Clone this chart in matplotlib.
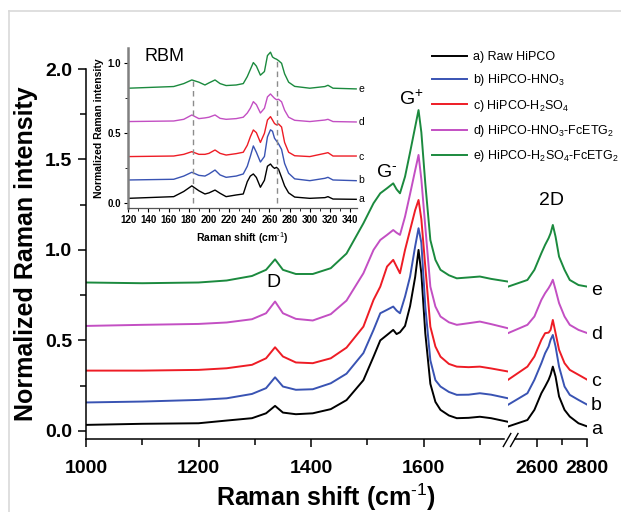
import matplotlib
matplotlib.use("Agg")
import matplotlib.pyplot as plt
from matplotlib.lines import Line2D
from matplotlib.ticker import MultipleLocator, FixedLocator

plt.rcParams['font.family'] = ['Liberation Sans', 'DejaVu Sans']
plt.rcParams['mathtext.fontset'] = 'custom'
plt.rcParams['mathtext.rm'] = 'Liberation Sans'
plt.rcParams['mathtext.it'] = 'Liberation Sans:italic'
plt.rcParams['mathtext.bf'] = 'Liberation Sans:bold'
plt.rcParams['mathtext.default'] = 'regular'

# ---------------- data ----------------
labels = ["a) Raw HiPCO", "b) HiPCO-HNO$_3$", "c) HiPCO-H$_2$SO$_4$",
          "d) HiPCO-HNO$_3$-FcETG$_2$", "e) HiPCO-H$_2$SO$_4$-FcETG$_2$"]
short = ["a", "b", "c", "d", "e"]
colors = ["#000000", "#3953B3", "#EE1C25", "#C34FC3", "#1B8A3E"]

x_left = [1000, 1100, 1200, 1250, 1295, 1320, 1336, 1350, 1373, 1403, 1435, 1463,
          1493, 1511, 1523, 1535, 1546, 1552, 1558, 1567, 1576, 1585, 1591, 1596,
          1603, 1612, 1621, 1630, 1645, 1659, 1680, 1700, 1720, 1750]
a_left = [0.033, 0.039, 0.042, 0.057, 0.07, 0.097, 0.138, 0.101, 0.092, 0.097, 0.12, 0.17,
          0.28, 0.41, 0.50, 0.53, 0.558, 0.535, 0.545, 0.58, 0.69, 0.85, 1.0, 0.87,
          0.54, 0.26, 0.16, 0.116, 0.085, 0.07, 0.072, 0.078, 0.07, 0.05]
b_left = [0.157, 0.162, 0.171, 0.18, 0.204, 0.236, 0.296, 0.245, 0.227, 0.23, 0.263, 0.316,
          0.43, 0.558, 0.65, 0.669, 0.687, 0.665, 0.65, 0.742, 0.853, 1.02, 1.12, 1.04,
          0.687, 0.39, 0.28, 0.245, 0.215, 0.199, 0.2, 0.208, 0.2, 0.18]
c_left = [0.333, 0.333, 0.337, 0.346, 0.365, 0.401, 0.462, 0.411, 0.378, 0.374, 0.401, 0.46,
          0.576, 0.724, 0.797, 0.908, 0.945, 0.908, 0.871, 1.0, 1.11, 1.22, 1.276, 1.17,
          0.908, 0.576, 0.466, 0.41, 0.37, 0.355, 0.352, 0.355, 0.345, 0.328]
d_left = [0.58, 0.586, 0.591, 0.599, 0.617, 0.65, 0.715, 0.65, 0.619, 0.61, 0.645, 0.72,
          0.871, 1.0, 1.055, 1.083, 1.11, 1.095, 1.083, 1.184, 1.31, 1.44, 1.525, 1.39,
          1.129, 0.797, 0.687, 0.632, 0.6, 0.586, 0.595, 0.604, 0.59, 0.567]
e_left = [0.82, 0.816, 0.82, 0.831, 0.856, 0.89, 0.948, 0.89, 0.867, 0.867, 0.899, 0.98,
          1.147, 1.258, 1.313, 1.341, 1.368, 1.335, 1.313, 1.405, 1.54, 1.68, 1.773, 1.65,
          1.368, 1.055, 0.945, 0.89, 0.86, 0.843, 0.848, 0.853, 0.84, 0.825]

x_right = [2484, 2562, 2590, 2618, 2633, 2647, 2655, 2664, 2675, 2689, 2711, 2732, 2767, 2803]
a_right = [0.024, 0.06, 0.116, 0.208, 0.245, 0.282, 0.31, 0.355, 0.3, 0.19, 0.116, 0.079, 0.042, 0.024]
b_right = [0.144, 0.208, 0.282, 0.374, 0.429, 0.466, 0.503, 0.53, 0.466, 0.355, 0.245, 0.199, 0.171, 0.144]
c_right = [0.282, 0.355, 0.411, 0.503, 0.54, 0.543, 0.558, 0.613, 0.54, 0.448, 0.374, 0.337, 0.31, 0.282]
d_right = [0.54, 0.586, 0.632, 0.724, 0.761, 0.789, 0.808, 0.835, 0.78, 0.706, 0.632, 0.586, 0.558, 0.54]
e_right = [0.797, 0.834, 0.89, 0.982, 1.028, 1.065, 1.092, 1.138, 1.073, 0.963, 0.89, 0.834, 0.806, 0.797]

x_rbm = [120, 165, 175, 183, 190, 196, 200, 206, 211, 217, 227, 234, 238, 241, 244, 247,
         251, 255, 258, 261, 263, 265, 267, 269, 272, 275, 279, 285, 300, 315, 318, 323, 346]
a_rbm = [0.031, 0.043, 0.08, 0.12, 0.085, 0.062, 0.07, 0.09, 0.067, 0.043, 0.055, 0.062, 0.15, 0.19,
         0.205, 0.18, 0.11, 0.16, 0.26, 0.276, 0.257, 0.245, 0.252, 0.238, 0.18, 0.12, 0.07, 0.04,
         0.031, 0.036, 0.043, 0.026, 0.024]
b_rbm = [0.162, 0.167, 0.19, 0.217, 0.195, 0.19, 0.205, 0.233, 0.198, 0.181, 0.19, 0.205, 0.26, 0.33,
         0.405, 0.36, 0.29, 0.33, 0.47, 0.52, 0.51, 0.46, 0.44, 0.42, 0.38, 0.28, 0.21, 0.17,
         0.157, 0.174, 0.181, 0.162, 0.157]
c_rbm = [0.329, 0.333, 0.345, 0.364, 0.345, 0.345, 0.352, 0.376, 0.352, 0.34, 0.35, 0.36, 0.41, 0.47,
         0.519, 0.50, 0.43, 0.495, 0.59, 0.614, 0.59, 0.565, 0.555, 0.562, 0.54, 0.43, 0.36, 0.335,
         0.329, 0.352, 0.357, 0.333, 0.333]
d_rbm = [0.579, 0.583, 0.595, 0.626, 0.6, 0.605, 0.61, 0.626, 0.602, 0.595, 0.6, 0.61, 0.64, 0.674,
         0.721, 0.70, 0.64, 0.674, 0.755, 0.776, 0.76, 0.745, 0.735, 0.738, 0.72, 0.66, 0.61, 0.588,
         0.579, 0.59, 0.595, 0.579, 0.576]
e_rbm = [0.817, 0.829, 0.85, 0.876, 0.86, 0.84, 0.855, 0.876, 0.85, 0.836, 0.84, 0.85, 0.9, 0.95,
         1.0, 0.975, 0.91, 0.936, 1.05, 1.074, 1.04, 1.03, 1.024, 1.014, 0.995, 0.92, 0.86, 0.83,
         0.817, 0.829, 0.838, 0.817, 0.812]
rbm_marks = [184, 267]
rbm_mark_tops = [0.87, 1.02]

left_series = [a_left, b_left, c_left, d_left, e_left]
right_series = [a_right, b_right, c_right, d_right, e_right]
rbm_series = [a_rbm, b_rbm, c_rbm, d_rbm, e_rbm]
end_label_y = [0.005, 0.14, 0.275, 0.535, 0.775]
rbm_label_y = [0.025, 0.162, 0.329, 0.579, 0.812]

# ---------------- figure ----------------
W, H = 621, 512
fig = plt.figure(figsize=(W / 100, H / 100), dpi=100)

def fx(px):
    return px / W

def fy(py):
    return (H - py) / H

# light frame of the page
fig.add_artist(Line2D([fx(8.5), 1.0], [fy(11), fy(11)], color="#d9d9d9", lw=1.2))
fig.add_artist(Line2D([fx(8.5), fx(8.5)], [0.0, fy(11)], color="#d9d9d9", lw=1.2))

ax_bottom = fy(439)
ax_h = fy(69) - fy(439)
axL = fig.add_axes([fx(86), ax_bottom, fx(508) - fx(86), ax_h])
axR = fig.add_axes([fx(508), ax_bottom, fx(586.7) - fx(508), ax_h])

for ax in (axL, axR):
    ax.patch.set_alpha(0)
    ax.set_ylim(-0.045, 2.0)
    for s in ("top", "right"):
        ax.spines[s].set_visible(False)
    ax.spines["bottom"].set_linewidth(1.1)
    ax.spines["left"].set_linewidth(1.1)
    ax.tick_params(axis="both", which="major", direction="out", length=6, width=1.1,
                   labelsize=14, pad=4)
    ax.tick_params(axis="both", which="minor", direction="out", length=4, width=1.1)

axR.spines["left"].set_visible(False)
axR.tick_params(axis="y", which="both", left=False, labelleft=False)

axL.set_xlim(1000, 1750)
axR.set_xlim(2484, 2800)
axL.spines["bottom"].set_bounds(1000, 1743)
axR.spines["bottom"].set_bounds(2513, 2800)

axL.xaxis.set_minor_locator(FixedLocator([1100, 1300, 1500, 1700]))
axR.xaxis.set_minor_locator(FixedLocator([2700]))
axL.yaxis.set_minor_locator(MultipleLocator(0.25))
axL.tick_params(axis="x", which="major", pad=9)
axR.tick_params(axis="x", which="major", pad=9)
axL.set_yticks([0.0, 0.5, 1.0, 1.5, 2.0])
axL.set_yticklabels(["0.0", "0.5", "1.0", "1.5", "2.0"], fontweight="bold", fontsize=14)
axL.set_xticks([1000, 1200, 1400, 1600])
axL.set_xticklabels(["1000", "1200", "1400", "1600"], fontweight="bold", fontsize=14)
axR.set_xticks([2600, 2800])
axR.set_xticklabels(["2600", "2800"], fontweight="bold", fontsize=14)

handles = []
for ys, yr, c, lab in zip(left_series, right_series, colors, labels):
    h, = axL.plot(x_left, ys, color=c, lw=1.4, label=lab)
    axR.plot(x_right, yr, color=c, lw=1.4)
    handles.append(h)

for t, yv in zip(short, end_label_y):
    axR.text(2838, yv, t, ha="center", va="center", fontsize=14, clip_on=False)

axL.text(1334, 0.82, "D", ha="center", va="center", fontsize=14)
axL.text(1535, 1.43, "G$^{\\text{-}}$", ha="center", va="center", fontsize=14)
axL.text(1578, 1.834, "G$^{+}$", ha="center", va="center", fontsize=14)
axR.text(2660, 1.273, "2D", ha="center", va="center", fontsize=14)

axL.set_ylabel("Normalized Raman intensity", fontsize=18, fontweight="bold", labelpad=5)
fig.text(fx(326), fy(497), "Raman shift (cm$^{\\mathbf{\\text{-1}}}$)", ha="center", va="center",
         fontsize=18, fontweight="bold")

# break marks
for x0 in (503.3, 510.5):
    fig.add_artist(Line2D([fx(x0), fx(x0 + 7.5)], [fy(446.5), fy(433.5)], color="black", lw=1.0))

fig.legend(handles=handles, labels=labels, loc="upper left",
           bbox_to_anchor=(fx(432), fy(51)), frameon=False, fontsize=9,
           borderpad=0, borderaxespad=0, handlelength=2.8, handletextpad=0.5,
           labelspacing=0.75)

# ---------------- inset ----------------
ins = fig.add_axes([fx(128.3), fy(208), fx(356.7) - fx(128.3), fy(48) - fy(208)])
ins.patch.set_alpha(0)
for s in ("top", "right"):
    ins.spines[s].set_visible(False)
ins.spines["left"].set_color("#808080")
ins.spines["left"].set_linewidth(1.8)
ins.spines["bottom"].set_color("#555555")
ins.spines["bottom"].set_linewidth(0.9)
ins_xt = list(range(120, 341, 20))
ins.set_xticks(ins_xt)
ins.set_xticklabels([str(v) for v in ins_xt], fontweight="bold", fontsize=7)
ins.xaxis.set_minor_locator(MultipleLocator(10))
ins.set_yticks([0.0, 0.5, 1.0])
ins.set_yticklabels(["0.0", "0.5", "1.0"], fontweight="bold", fontsize=7)
ins.yaxis.set_minor_locator(MultipleLocator(0.25))
ins.tick_params(axis="both", which="major", direction="out", length=3, width=0.8, pad=2)
ins.tick_params(axis="both", which="minor", direction="out", length=2, width=0.6)
ins.set_xlim(120, 346.5)
ins.set_ylim(-0.038, 1.104)

for ys, c in zip(rbm_series, colors):
    ins.plot(x_rbm, ys, color=c, lw=1.0)
ins.vlines(rbm_marks, 0.0, rbm_mark_tops, colors="#8c8c8c", linestyles=(0, (4, 3)), lw=1.0)
for t, yv in zip(short, rbm_label_y):
    ins.text(351, yv, t, ha="center", va="center", fontsize=7.5, clip_on=False)
ins.text(156, 1.043, "RBM", ha="center", va="center", fontsize=13)
ins.set_ylabel("Normalized Raman intensity", fontsize=7.5, fontweight="bold", labelpad=3)
ins.set_xlabel("Raman shift (cm$^{\\mathbf{\\text{-1}}}$)", fontsize=7.5, fontweight="bold", labelpad=4)

fig.savefig("out.png", dpi=100)
